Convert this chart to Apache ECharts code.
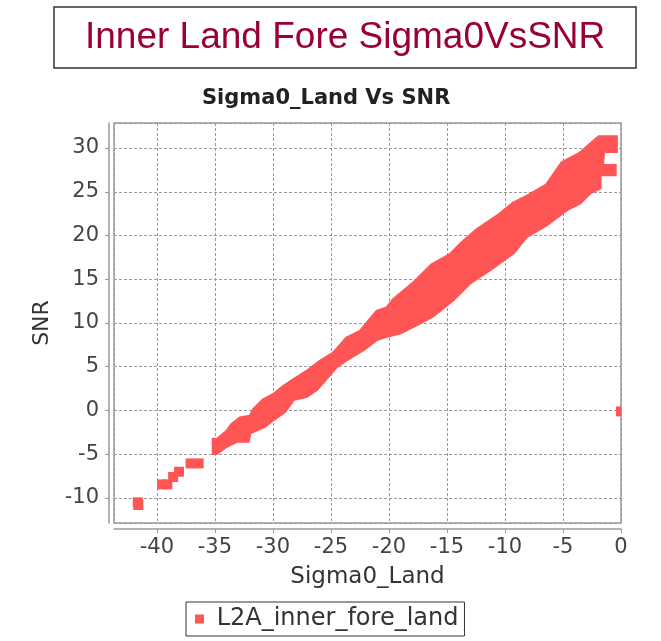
<!DOCTYPE html>
<html lang="en">
<head>
    <meta charset="UTF-8">
    <title>Inner Land Fore Sigma0VsSNR</title>
    <script src="https://cdn.jsdelivr.net/npm/echarts@6/dist/echarts.min.js"></script>
    <style>
        html, body { margin: 0; padding: 0; background: #fff; }
        #chart { width: 661px; height: 641px; }
    </style>
</head>
<body>
    <div id="chart"></div>
    <script>
    // 散点云的外轮廓（上沿从左到右，下沿从左到右）
    const seriesName = 'L2A_inner_fore_land';
    const topX = [-35.15, -34.85, -33.99, -33.56, -32.84, -31.98, -31.69, -30.83, -29.97, -29.1, -28.24, -27.09, -25.94, -24.79, -23.64, -22.49, -21.05, -20.19, -19.62, -17.9, -16.31, -14.73, -13.73, -12.43, -10.71, -9.28, -8.12, -6.4, -5.11, -3.53, -2.38, -1.9, -0.4, -0.4, -1.5, -1.6, -0.5, -0.5];
    const topY = [-3.3, -3.33, -2.39, -1.62, -0.86, -0.67, 0.09, 1.24, 1.81, 2.76, 3.52, 4.47, 5.62, 6.57, 8.29, 9.04, 11.33, 11.72, 12.67, 14.57, 16.67, 17.81, 19.15, 20.67, 22.19, 23.72, 24.47, 25.81, 28.29, 29.43, 30.76, 31.3, 31.3, 29.6, 29.6, 28.0, 28.0, 26.95];
    const botX = [-35.15, -34.85, -33.99, -33.12, -32.12, -31.98, -30.68, -29.97, -28.96, -28.24, -27.09, -26.23, -25.36, -24.5, -23.64, -22.21, -21.05, -20.19, -19.05, -17.6, -16.2, -14.45, -13.01, -11.29, -9.28, -8.12, -6.4, -4.67, -3.53, -2.67, -1.8, -1.8];
    const botY = [-4.93, -4.93, -4.1, -3.53, -3.53, -2.57, -1.81, -1.05, -0.1, 1.24, 1.62, 2.38, 3.72, 5.04, 5.81, 6.95, 8.1, 8.47, 8.86, 9.8, 10.8, 12.67, 14.57, 16.09, 18.0, 19.9, 21.24, 22.95, 23.72, 24.86, 25.43, 26.95];
    // 零散的点
    const outX = [-41.65, -41.6, -39.55, -39.1, -38.6, -38.1, -37.1, -36.4, 0];
    const outY = [-10.5, -10.8, -8.45, -8.45, -7.6, -7.0, -6.05, -6.05, -0.1];

    const xTicks = [-40, -35, -30, -25, -20, -15, -10, -5, 0];
    const yTicks = [-10, -5, 0, 5, 10, 15, 20, 25, 30];

    const red = '#ff5555';
    const gridColor = '#9a9a9a';
    const font = 'DejaVu Sans';

    // 轮廓：上沿正序 + 下沿倒序
    const outline = topX.map((x, i) => [x, topY[i]])
        .concat(botX.map((x, i) => [x, botY[i]]).reverse());
    const outData = outX.map((x, i) => [x, outY[i]]);

    function tickLabel(list) {
        return function (v) {
            return list.indexOf(Math.round(v * 100) / 100) >= 0 ? String(v) : '';
        };
    }

    const chart = echarts.init(document.getElementById('chart'));
    chart.setOption({
        backgroundColor: '#fff',
        animation: false,
        title: [
            {
                text: 'Inner Land Fore Sigma0VsSNR',
                left: 54, top: 7,
                padding: [12, 31],
                borderColor: '#333', borderWidth: 1.5,
                textStyle: { fontFamily: 'Liberation Sans', fontSize: 37, fontWeight: 'normal', color: '#9a0036' }
            },
            {
                text: 'Sigma0_Land Vs SNR',
                left: 202, top: 88, padding: 0,
                textStyle: { fontFamily: font, fontSize: 21, fontWeight: 'bold', color: '#222' }
            }
        ],
        legend: {
            left: 186, top: 602,
            padding: [5, 6, 5, 9],
            borderColor: '#333', borderWidth: 1,
            icon: 'rect', itemWidth: 9, itemHeight: 9,
            formatter: ' {name}',
            textStyle: { fontFamily: font, fontSize: 24, color: '#333' },
            data: [seriesName]
        },
        grid: {
            left: 114, right: 40, top: 123, bottom: 118,
            show: true, borderColor: gridColor, borderWidth: 1.5, backgroundColor: '#fff'
        },
        xAxis: {
            type: 'value', min: -43.7, max: 0, splitNumber: 9,
            offset: 6,
            name: 'Sigma0_Land', nameLocation: 'middle', nameGap: 37,
            nameTextStyle: { fontFamily: font, fontSize: 23, color: '#333' },
            axisLine: { show: true, onZero: false, lineStyle: { color: gridColor, width: 1.5 } },
            axisTick: { show: true, length: 4, lineStyle: { color: gridColor } },
            axisLabel: { margin: 8, fontFamily: font, fontSize: 21, color: '#444', showMinLabel: false, formatter: tickLabel(xTicks) },
            splitLine: { show: true, lineStyle: { color: gridColor, type: [3, 2], width: 1 } }
        },
        yAxis: {
            type: 'value', min: -12.86, max: 32.86, splitNumber: 9,
            offset: 5,
            name: 'SNR', nameLocation: 'middle', nameGap: 56, nameRotate: 90,
            nameTextStyle: { fontFamily: font, fontSize: 22, color: '#333' },
            axisLine: { show: true, onZero: false, lineStyle: { color: gridColor, width: 1.5 } },
            axisTick: { show: true, length: 4, lineStyle: { color: gridColor } },
            axisLabel: { margin: 10, fontFamily: font, fontSize: 21, color: '#444', showMinLabel: false, showMaxLabel: false, formatter: tickLabel(yTicks) },
            splitLine: { show: true, lineStyle: { color: gridColor, type: [3, 2], width: 1 } }
        },
        series: [
            {
                name: seriesName,
                type: 'custom',
                clip: true,
                itemStyle: { color: red },
                data: outline,
                renderItem: function (params, api) {
                    if (params.dataIndexInside !== 0) return null;
                    const pts = [];
                    for (let i = 0; i < params.dataInsideLength; i++) {
                        pts.push(api.coord([api.value(0, i), api.value(1, i)]));
                    }
                    return {
                        type: 'polygon',
                        shape: { points: pts },
                        style: { fill: red, stroke: red, lineWidth: 3, lineJoin: 'miter' }
                    };
                }
            },
            {
                name: seriesName,
                type: 'custom',
                clip: true,
                itemStyle: { color: red },
                data: outData,
                renderItem: function (params, api) {
                    const p = api.coord([api.value(0), api.value(1)]);
                    const s = 10;
                    return {
                        type: 'rect',
                        shape: { x: p[0] - s / 2, y: p[1] - s / 2, width: s, height: s },
                        style: { fill: red }
                    };
                }
            }
        ]
    });
    </script>
</body>
</html>
